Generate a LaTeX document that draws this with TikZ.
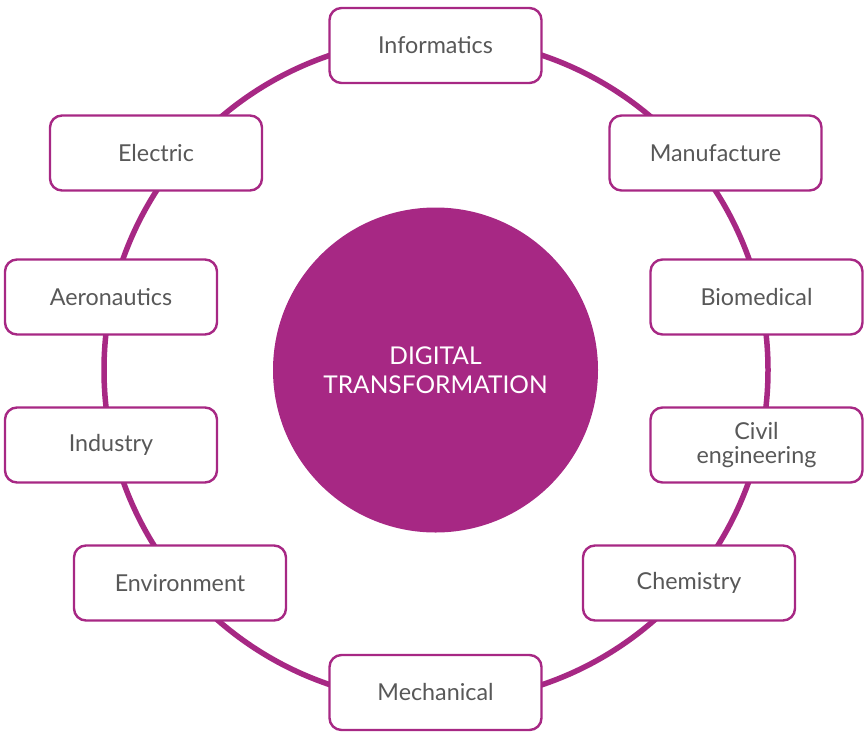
\documentclass[tikz,border=0pt]{standalone}
\usepackage{fontspec}
\setmainfont{Lato}
\definecolor{mag}{RGB}{167,40,132}
\definecolor{txt}{RGB}{88,88,88}
\begin{document}
\begin{tikzpicture}[x=1pt,y=-1pt,
  field/.style={draw=mag, line width=2.4pt, fill=white, rounded corners=12pt,
    minimum width=212pt, minimum height=75pt, text=txt, align=center,
    font=\fontsize{23.3}{24}\selectfont, inner sep=0pt},
  ring/.style={draw=mag, line width=5.5pt}]
\useasboundingbox (0,0) rectangle (867,742);
\node[circle, fill=mag, minimum size=325pt, inner sep=0pt, text=white, align=center,
  font=\fontsize{24.5}{29}\selectfont] (core) at (435.5,370) {DIGITAL\\TRANSFORMATION};
\coordinate (hub) at (436,370);
\draw[ring] (hub) circle[radius=332pt];
\node[field] (inf) at (435.5,45.5) {Informatics};
\node[field] (man) at (715.5,153) {Manufacture};
\node[field] (bio) at (756.5,297) {Biomedical};
\node[field] (civ) at (756.5,445) {Civil\\engineering};
\node[field] (che) at (689,583) {Chemistry};
\node[field] (mec) at (435.5,692.5) {Mechanical};
\node[field] (env) at (180,583) {Environment};
\node[field] (ind) at (111,445) {Industry};
\node[field] (aer) at (111,297) {Aeronautics};
\node[field] (ele) at (156,153) {Electric};
\end{tikzpicture}
\end{document}
